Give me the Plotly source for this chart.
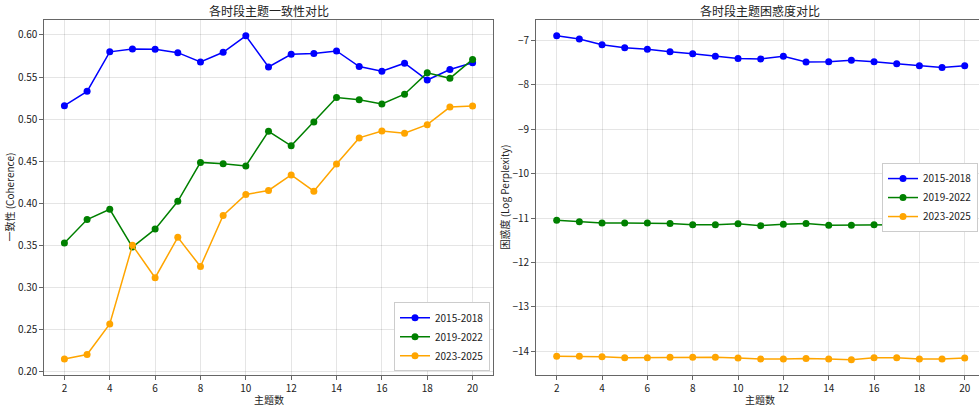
import plotly.graph_objects as go

topics = list(range(2, 21))
series_names = ["2015-2018", "2019-2022", "2023-2025"]
colors = ["blue", "green", "orange"]

coh_2015 = [0.516, 0.533, 0.580, 0.5835, 0.583, 0.579, 0.568, 0.5795, 0.599, 0.562,
            0.577, 0.578, 0.581, 0.5625, 0.557, 0.5665, 0.5465, 0.559, 0.567]
coh_2019 = [0.3528, 0.3807, 0.3929, 0.348, 0.3693, 0.4023, 0.4486, 0.447, 0.4444, 0.4855,
            0.4683, 0.4966, 0.5257, 0.523, 0.518, 0.5296, 0.555, 0.5485, 0.571]
coh_2023 = [0.2148, 0.2203, 0.2565, 0.350, 0.3115, 0.3595, 0.3248, 0.3854, 0.4105, 0.4152,
            0.4337, 0.4144, 0.4467, 0.4777, 0.486, 0.4833, 0.4934, 0.5143, 0.5155]

perp_2015 = [-6.90, -6.97, -7.10, -7.17, -7.20, -7.26, -7.30, -7.36, -7.41, -7.42,
             -7.36, -7.49, -7.48, -7.45, -7.48, -7.53, -7.57, -7.61, -7.57]
perp_2019 = [-11.05, -11.08, -11.11, -11.11, -11.11, -11.12, -11.15, -11.15, -11.13, -11.17,
             -11.14, -11.12, -11.16, -11.16, -11.15, -11.15, -11.14, -11.18, -11.20]
perp_2023 = [-14.11, -14.11, -14.12, -14.14, -14.14, -14.13, -14.13, -14.13, -14.15, -14.17,
             -14.17, -14.16, -14.17, -14.19, -14.14, -14.14, -14.17, -14.17, -14.15]

x_ticks = [2, 4, 6, 8, 10, 12, 14, 16, 18, 20]
coh_ticks = [0.20, 0.25, 0.30, 0.35, 0.40, 0.45, 0.50, 0.55, 0.60]
perp_ticks = [-7, -8, -9, -10, -11, -12, -13, -14]

FONT = "Noto Sans CJK SC"
fig = go.Figure()

for name, col, ys in zip(series_names, colors, [coh_2015, coh_2019, coh_2023]):
    fig.add_trace(go.Scatter(x=topics, y=ys, mode="lines+markers", name=name,
                             line=dict(color=col, width=1.5), marker=dict(color=col, size=7),
                             xaxis="x", yaxis="y", legend="legend"))
for name, col, ys in zip(series_names, colors, [perp_2015, perp_2019, perp_2023]):
    fig.add_trace(go.Scatter(x=topics, y=ys, mode="lines+markers", name=name,
                             line=dict(color=col, width=1.5), marker=dict(color=col, size=7),
                             xaxis="x2", yaxis="y2", legend="legend2"))

axis_common = dict(showgrid=True, gridcolor="rgba(0,0,0,0.1)", gridwidth=1,
                   showline=True, linecolor="#666", linewidth=1.3,
                   ticks="outside", ticklen=3.5, tickcolor="#666",
                   tickfont=dict(family=FONT, size=10, color="#222"), zeroline=False)

def ann(text, x, y, angle=0, size=10):
    return dict(text=text, x=x / 979, y=1 - y / 412, xref="paper", yref="paper",
                xanchor="center", yanchor="middle", showarrow=False, textangle=angle,
                font=dict(family=FONT, size=size, color="#222"))

ydom = [1 - 378 / 412, 1 - 20 / 412]
fig.update_layout(
    width=979, height=412,
    margin=dict(l=0, r=0, t=0, b=0),
    paper_bgcolor="white", plot_bgcolor="white",
    font=dict(family=FONT, size=10, color="#222"),
    xaxis=dict(domain=[44 / 979, 493 / 979], range=[1.1, 20.9], tickvals=x_ticks,
               mirror=True, anchor="y", **axis_common),
    yaxis=dict(domain=ydom, range=[0.1956, 0.618], tickvals=coh_ticks,
               ticktext=[f"{v:.2f}" for v in coh_ticks], mirror=True, anchor="x", **axis_common),
    xaxis2=dict(domain=[535.7 / 979, 1.0], range=[1.074, 20.63], tickvals=x_ticks,
                mirror=True, anchor="y2", **axis_common),
    yaxis2=dict(domain=ydom, range=[-14.536, -6.54], tickvals=perp_ticks,
                ticktext=["\u2212" + str(abs(v)) for v in perp_ticks], mirror=False, anchor="x2",
                **axis_common),
    legend=dict(x=490 / 979, xanchor="right", y=1 - 374 / 412, yanchor="bottom",
                bgcolor="white", bordercolor="#ccc", borderwidth=1,
                font=dict(family=FONT, size=10, color="#222"), tracegroupgap=0,
                itemwidth=30),
    legend2=dict(x=978 / 979, xanchor="right", y=1 - 199 / 412, yanchor="middle",
                 bgcolor="white", bordercolor="#ccc", borderwidth=1,
                 font=dict(family=FONT, size=10, color="#222"), tracegroupgap=0,
                 itemwidth=30),
    showlegend=True,
    annotations=[
        ann("各时段主题一致性对比", 268.5, 11, size=12),
        ann("各时段主题困惑度对比", 760, 11, size=12),
        ann("主题数", 268.5, 402),
        ann("主题数", 760, 402),
        ann("一致性 (Coherence)", 10, 199, angle=-90),
        ann("困惑度 (Log Perplexity)", 505, 199, angle=-90),
    ],
)

fig.write_html("out.html", config={"displayModeBar": False},
               post_script="document.body.style.margin='0';document.body.style.overflow='hidden';")
